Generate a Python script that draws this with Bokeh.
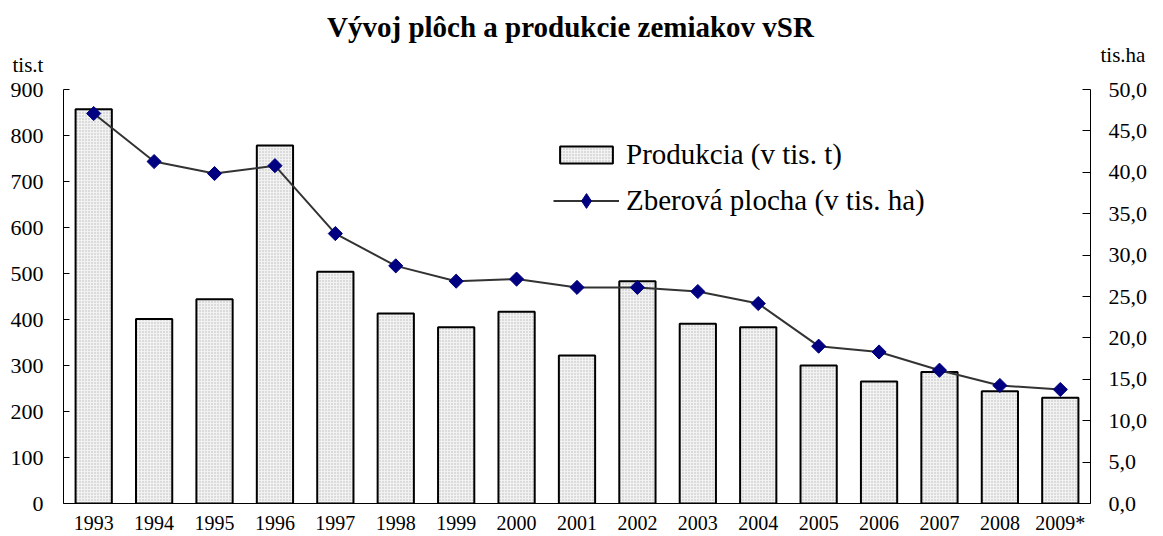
import numpy as np
from bokeh.plotting import figure
from bokeh.models import (Range1d, LinearAxis, SingleIntervalTicker, Legend, LegendItem,
                          Label, CustomJSTickFormatter, ColumnDataSource)
from bokeh.embed import file_html
from bokeh.resources import INLINE

years = ["1993", "1994", "1995", "1996", "1997", "1998", "1999", "2000", "2001",
         "2002", "2003", "2004", "2005", "2006", "2007", "2008", "2009*"]
production = [857, 401, 444, 778, 504, 413, 383, 417, 322, 483, 391, 383, 300, 265, 286, 244, 230]
area = [47.1, 41.3, 39.85, 40.8, 32.6, 28.7, 26.85, 27.1, 26.1, 26.1, 25.6, 24.15, 19.0, 18.3,
        16.1, 14.25, 13.77]

title_text = "Vývoj plôch a produkcie zemiakov vSR"
prod_label = "Produkcia (v tis. t)"
area_label = "Zberová plocha (v tis. ha)"
left_unit = "tis.t"
right_unit = "tis.ha"

FONT = "Liberation Serif"
W, H = 1163, 536

src = ColumnDataSource(dict(year=years, prod=production, area=area))

p = figure(x_range=years, y_range=Range1d(0, 900), width=W, height=H,
           output_backend="svg", toolbar_location=None,
           min_border_left=63, min_border_right=73, min_border_top=89, min_border_bottom=33)
p.x_range.range_padding = 0
p.extra_y_ranges = {"area": Range1d(0, 50)}

p.outline_line_color = None
p.xgrid.grid_line_color = None
p.ygrid.grid_line_color = None
p.background_fill_color = "white"
p.border_fill_color = "white"

bars = p.vbar(x="year", top="prod", width=0.6, source=src,
              fill_color="#f2f2f2", line_color="black", line_width=2,
              hatch_pattern="dot", hatch_color="#b8b8b8", hatch_scale=3, hatch_weight=0.6)

ln = p.line(x="year", y="area", source=src, y_range_name="area",
            line_color="#333333", line_width=2)
mk = p.scatter(x="year", y="area", source=src, y_range_name="area", marker="square",
               size=10, angle=np.pi / 4, fill_color="#000080", line_color="#000080")
# hidden diamond renderer: only supplies the legend swatch (legend ignores marker angle)
mk_leg = p.scatter(x="year", y="area", source=src, y_range_name="area", marker="diamond",
                   size=16, fill_color="#000080", line_color="#000080", visible=False)

# left axis
ya = p.yaxis[0]
ya.ticker = SingleIntervalTicker(interval=100)
ya.major_tick_in = 6
ya.major_tick_out = 0
ya.minor_tick_line_color = None
ya.axis_line_color = "black"
ya.major_tick_line_color = "black"
ya.major_label_text_font = FONT
ya.major_label_text_font_size = "22px"
ya.major_label_text_color = "black"
ya.major_label_standoff = 16

# right axis
ra = LinearAxis(y_range_name="area", ticker=SingleIntervalTicker(interval=5))
ra.formatter = CustomJSTickFormatter(code="return tick.toFixed(1).replace('.', ',');")
ra.major_tick_in = 8
ra.major_tick_out = 0
ra.minor_tick_line_color = None
ra.axis_line_color = "black"
ra.major_tick_line_color = "black"
ra.major_label_text_font = FONT
ra.major_label_text_font_size = "22px"
ra.major_label_text_color = "black"
ra.major_label_standoff = 14
p.add_layout(ra, "right")

# bottom axis
xa = p.xaxis[0]
xa.major_tick_in = 0
xa.major_tick_out = 0
xa.minor_tick_line_color = None
xa.axis_line_color = "black"
xa.major_label_text_font = FONT
xa.major_label_text_font_size = "20px"
xa.major_label_text_color = "black"
xa.major_label_standoff = 8

# title and unit labels, placed in the top border panel (canvas coordinates, y from top)
t = Label(x=570, y=26, x_units="canvas", y_units="canvas", text=title_text,
          text_font=FONT, text_font_size="29px", text_font_style="bold",
          text_align="center", text_baseline="alphabetic", text_color="black")
u1 = Label(x=12, y=64, x_units="canvas", y_units="canvas", text=left_unit,
           text_font=FONT, text_font_size="21px", text_baseline="alphabetic",
           text_color="black")
u2 = Label(x=1100, y=54, x_units="canvas", y_units="canvas", text=right_unit,
           text_font=FONT, text_font_size="21px", text_baseline="alphabetic",
           text_color="black")
for lab in (t, u1, u2):
    p.add_layout(lab, "above")

common = dict(orientation="vertical", label_text_font=FONT, label_text_font_size="29px",
              label_text_color="black", glyph_width=66, label_height=30, label_standoff=7,
              padding=0, margin=0, border_line_color=None, background_fill_alpha=0)
legend1 = Legend(items=[LegendItem(label=prod_label, renderers=[bars])],
                 location=(490, 332), glyph_height=21, **common)
legend2 = Legend(items=[LegendItem(label=area_label, renderers=[ln, mk_leg])],
                 location=(490, 284), glyph_height=37, **common)
p.add_layout(legend1)
p.add_layout(legend2)

open("out.html", "w").write(file_html(p, INLINE))
